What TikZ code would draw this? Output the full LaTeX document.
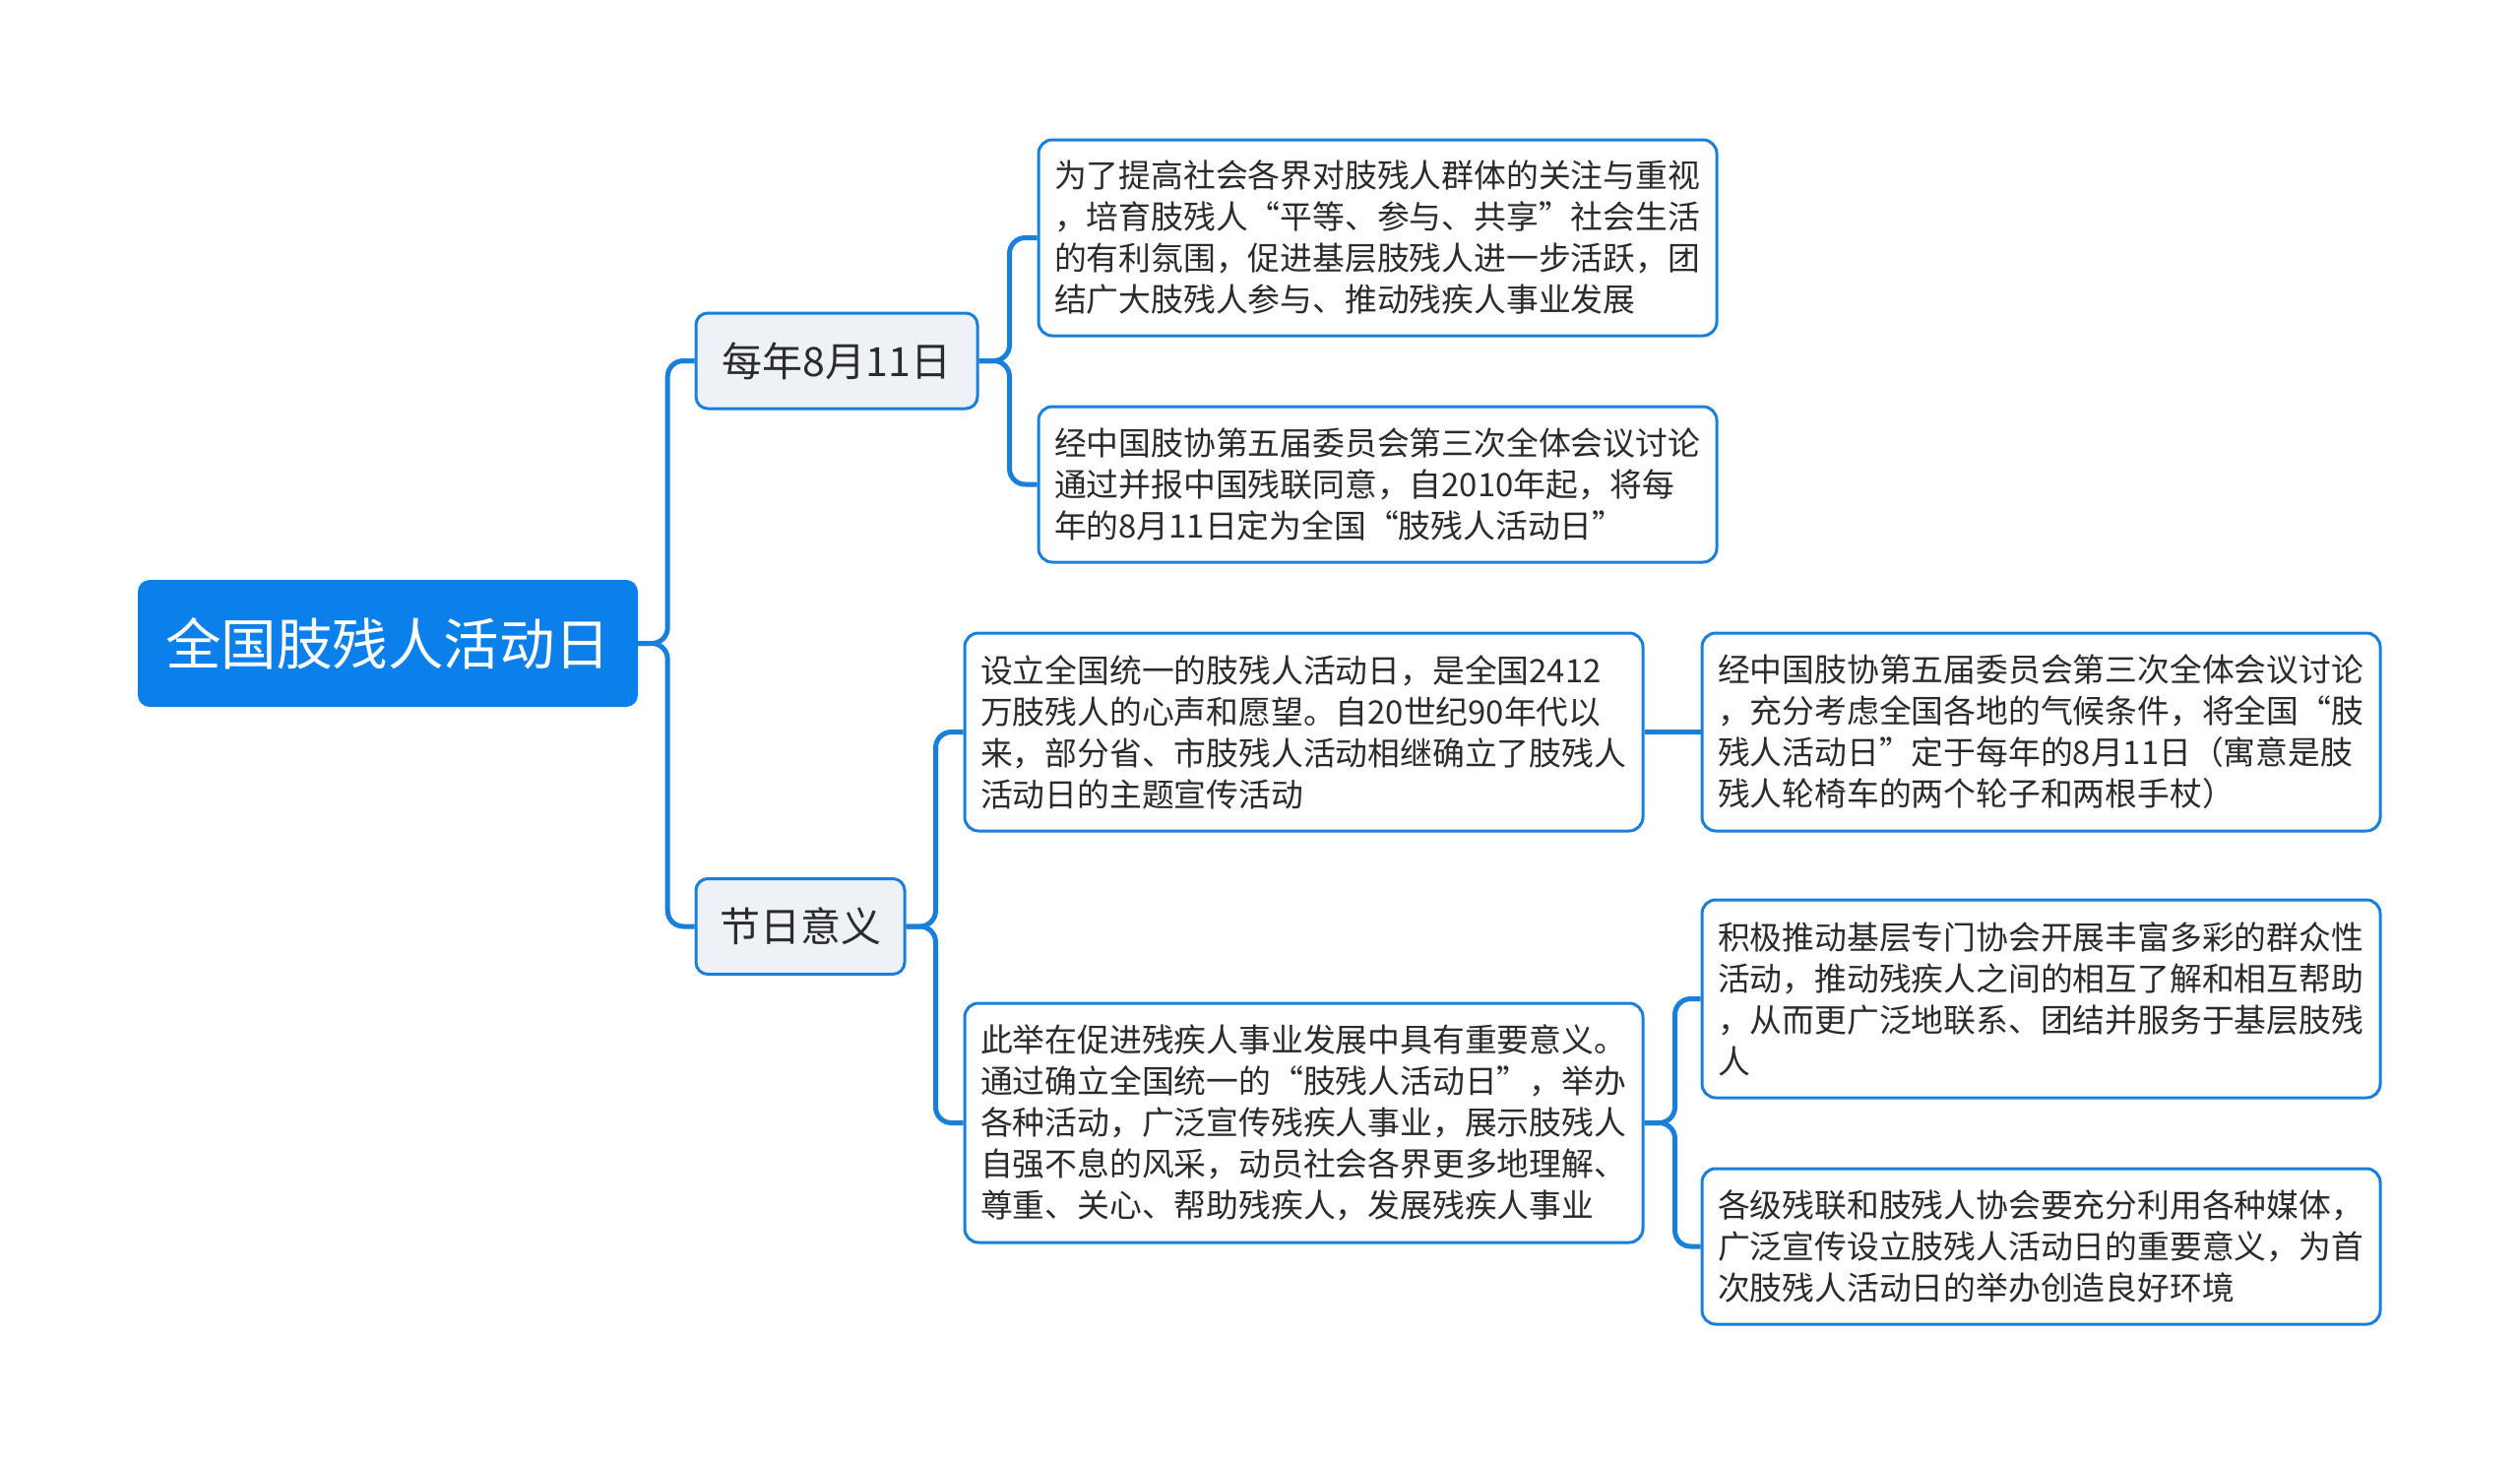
\documentclass[tikz,border=0pt]{standalone}
\usepackage{fontspec}
\setmainfont{Noto Sans CJK SC}
\begin{document}
\begin{tikzpicture}[x=1pt,y=-1pt,
  conn/.style={draw=lineblue,line width=5pt,rounded corners=16pt},
  rootbox/.style={fill=rootblue,draw=none,rounded corners=12pt,text=white,
    minimum width=508pt,minimum height=129pt,inner sep=0pt,
    font=\fontsize{56.5}{60}\selectfont},
  midbox/.style={fill=midgray,draw=lineblue,line width=3pt,rounded corners=12pt,
    text=txt,inner sep=0pt,minimum height=97pt,font=\fontsize{41}{48}\selectfont},
  leaf/.style={fill=white,draw=lineblue,line width=3pt,rounded corners=14pt,
    text=txt,text width=657pt,inner xsep=16pt,inner ysep=0pt,align=left,
    font=\fontsize{32.8}{42}\selectfont}
]
\definecolor{rootblue}{HTML}{0B80EA}
\definecolor{lineblue}{HTML}{1A7FDB}
\definecolor{midgray}{HTML}{EEF2F6}
\definecolor{txt}{HTML}{2B2B2B}
\useasboundingbox (0,0) rectangle (2560,1486);

\node[rootbox] (root) at (394,653.5) {全国肢残人活动日};
\node[midbox,minimum width=286pt] (a) at (850,366.5) {每年8月11日};
\node[midbox,minimum width=212pt] (b) at (813,941) {节日意义};

\node[leaf,minimum height=199pt] (a1) at (1399.5,241.5) {为了提高社会各界对肢残人群体的关注与重视\\，培育肢残人“平等、参与、共享”社会生活\\的有利氛围，促进基层肢残人进一步活跃，团\\结广大肢残人参与、推动残疾人事业发展};
\node[leaf,minimum height=158pt] (a2) at (1399.5,492) {经中国肢协第五届委员会第三次全体会议讨论\\通过并报中国残联同意，自2010年起，将每\\年的8月11日定为全国“肢残人活动日”};
\node[leaf,minimum height=201pt] (b1) at (1324.5,743.5) {设立全国统一的肢残人活动日，是全国2412\\万肢残人的心声和愿望。自20世纪90年代以\\来，部分省、市肢残人活动相继确立了肢残人\\活动日的主题宣传活动};
\node[leaf,minimum height=243pt] (b2) at (1324.5,1140.5) {此举在促进残疾人事业发展中具有重要意义。\\通过确立全国统一的“肢残人活动日”，举办\\各种活动，广泛宣传残疾人事业，展示肢残人\\自强不息的风采，动员社会各界更多地理解、\\尊重、关心、帮助残疾人，发展残疾人事业};
\node[leaf,minimum height=201pt] (b1a) at (2073.5,743.5) {经中国肢协第五届委员会第三次全体会议讨论\\，充分考虑全国各地的气候条件，将全国“肢\\残人活动日”定于每年的8月11日（寓意是肢\\残人轮椅车的两个轮子和两根手杖）};
\node[leaf,minimum height=201pt] (b2a) at (2073.5,1014.5) {积极推动基层专门协会开展丰富多彩的群众性\\活动，推动残疾人之间的相互了解和相互帮助\\，从而更广泛地联系、团结并服务于基层肢残\\人};
\node[leaf,minimum height=158pt] (b2b) at (2073.5,1266) {各级残联和肢残人协会要充分利用各种媒体，\\广泛宣传设立肢残人活动日的重要意义，为首\\次肢残人活动日的举办创造良好环境};

\draw[conn] (root.east) -- ++(30,0) |- (a.west);
\draw[conn] (root.east) -- ++(30,0) |- (b.west);
\draw[conn] (a.east) -- ++(31,0) |- (a1.west);
\draw[conn] (a.east) -- ++(31,0) |- (a2.west);
\draw[conn] (b.east) -- ++(30,0) |- (b1.west);
\draw[conn] (b.east) -- ++(30,0) |- (b2.west);
\draw[conn] (b1.east) -- (b1a.west);
\draw[conn] (b2.east) -- ++(31,0) |- (b2a.west);
\draw[conn] (b2.east) -- ++(31,0) |- (b2b.west);
\end{tikzpicture}
\end{document}
